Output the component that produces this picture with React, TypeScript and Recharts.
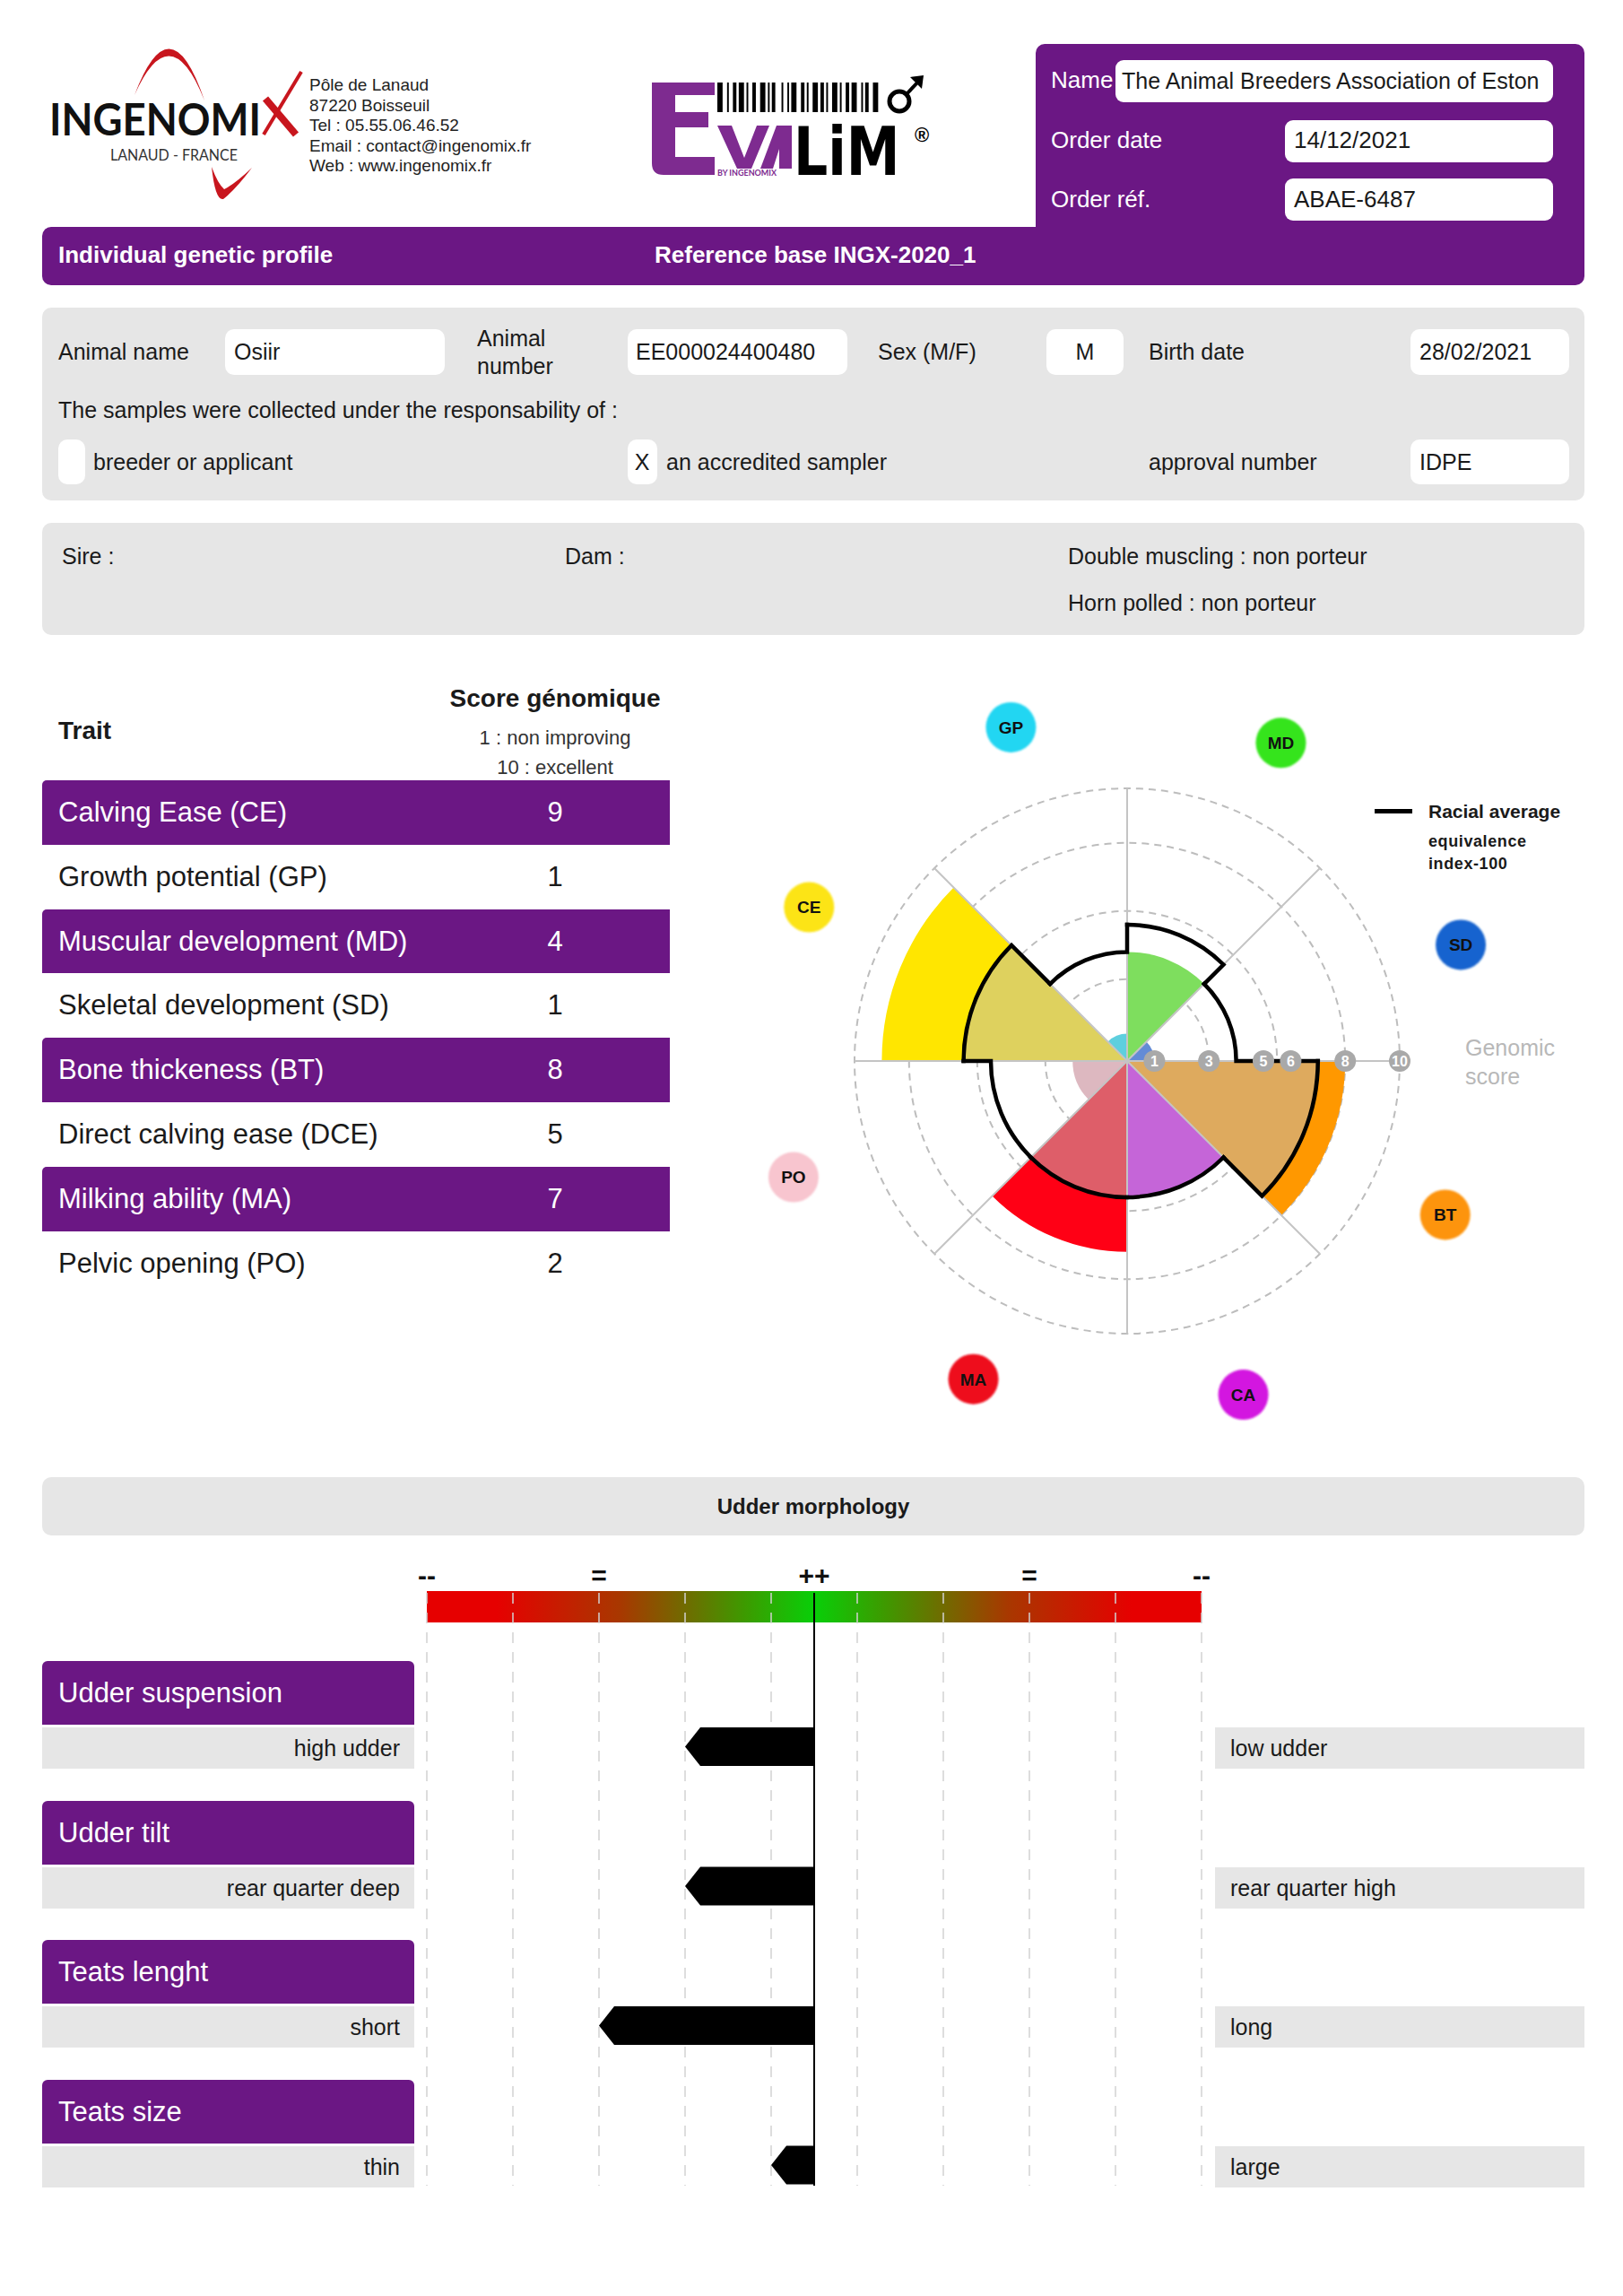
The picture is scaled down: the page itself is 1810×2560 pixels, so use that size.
import React from "react";
import {
  RadialBarChart,
  RadialBar,
  PolarGrid,
  PolarAngleAxis,
  PolarRadiusAxis,
  Cell,
  BarChart,
  Bar,
  XAxis,
  YAxis,
  CartesianGrid,
  ReferenceLine,
} from "recharts";

const FONT = "'Liberation Sans', Arial, sans-serif";
const PURPLE = "#6b1784";
const LIGHT = "#e6e6e6";
const INK = "#1a1a1a";

// trait table
const traitNames = [
  "Calving Ease (CE)",
  "Growth potential (GP)",
  "Muscular development (MD)",
  "Skeletal development (SD)",
  "Bone thickeness (BT)",
  "Direct calving ease (DCE)",
  "Milking ability (MA)",
  "Pelvic opening (PO)",
];
const traitScores = [9, 1, 4, 1, 8, 5, 7, 2];

// rose chart, clockwise from 12 o'clock
const roseCodes = ["MD", "SD", "BT", "CA", "MA", "PO", "CE", "GP"];
const roseScores = [4, 1, 8, 5, 7, 2, 9, 1];
const roseAverage = [5, 4, 7, 5, 5, 5, 6, 4];
const roseColors = ["#40ff00", "#0a5af0", "#ff9800", "#ce0ef4", "#ff0015", "#feb4c4", "#ffe600", "#00e2ff"];
const bubbleColors = ["#35e41c", "#1763cf", "#fd9410", "#d314e0", "#ee0a1e", "#f8c5cf", "#fce412", "#22d6f2"];
const radiusTicks = [1, 3, 5, 6, 8, 10];
const ringValues = [3, 5.5, 8, 10];

// udder morphology
const udderTraits = ["Udder suspension", "Udder tilt", "Teats lenght", "Teats size"];
const udderLow = ["high udder", "rear quarter deep", "short", "thin"];
const udderHigh = ["low udder", "rear quarter high", "long", "large"];
const udderValues = [-1.5, -1.5, -2.5, -0.5];
const scaleTicks = [-4.5, -2.5, 0, 2.5, 4.5];
const scaleLabels = ["--", "=", "++", "=", "--"];
const gridTicks = [-4.5, -3.5, -2.5, -1.5, -0.5, 0.5, 1.5, 2.5, 3.5, 4.5];

const barcode = [3, 2, 1, 2, 2, 1, 3, 1, 1, 2, 2, 2, 3, 1, 1, 1, 2, 3, 1, 2, 1, 1, 3, 2, 2, 1, 1, 2, 3, 1, 2, 1, 1, 2, 3, 1, 1, 2, 2, 1, 3, 2, 1, 1, 2, 2, 3];

const roseData = roseCodes.map((code, i) => {
  const base = Math.min(roseScores[i], roseAverage[i]);
  return { code, inner: base, outer: roseScores[i] - base, avg: roseAverage[i] };
});
const udderData = udderTraits.map((trait, i) => ({ trait, value: udderValues[i] }));

const R = 304;
const SIZE = 900;
const LABEL_R = 394;
const START = 45;
const spokeAngles = roseCodes.map((_, i) => 90 - (i * 360) / roseCodes.length);

const mix = (hex: string, t = 0.5, g = 188) => {
  const n = parseInt(hex.slice(1), 16);
  const f = (c: number) => Math.round(c * (1 - t) + g * t);
  return `rgb(${f((n >> 16) & 255)},${f((n >> 8) & 255)},${f(n & 255)})`;
};

const polar = (cx: number, cy: number, r: number, a: number) => [
  cx + r * Math.cos((-a * Math.PI) / 180),
  cy + r * Math.sin((-a * Math.PI) / 180),
];

const T = ({ x, y, size = 25, bold = false, color = INK, align = "left", children, style }: any) => {
  const tx = align === "center" ? "-50%" : align === "right" ? "-100%" : "0";
  return (
    <div
      style={{
        position: "absolute",
        left: x,
        top: y,
        transform: `translate(${tx}, -50%)`,
        fontSize: size,
        fontWeight: bold ? 700 : 400,
        color,
        whiteSpace: "nowrap",
        lineHeight: 1.2,
        ...style,
      }}
    >
      {children}
    </div>
  );
};

const Rect = ({ x, y, w, h, bg = "#fff", r = 0, style }: any) => (
  <div style={{ position: "absolute", left: x, top: y, width: w, height: h, background: bg, borderRadius: r, ...style }} />
);

const AvgStep = (props: any) => {
  const { cx, cy, outerRadius, startAngle, endAngle, payload } = props;
  const i = roseCodes.indexOf(payload?.code ?? props.code);
  if (i < 0) return null;
  const n = roseAverage.length;
  const lo = Math.min(startAngle, endAngle);
  const hi = Math.max(startAngle, endAngle);
  const nextR = (outerRadius * roseAverage[(i + 1) % n]) / roseAverage[i];
  const [x1, y1] = polar(cx, cy, outerRadius, hi);
  const [x2, y2] = polar(cx, cy, outerRadius, lo);
  const [x3, y3] = polar(cx, cy, nextR, lo);
  return (
    <path
      d={`M${x1},${y1} A${outerRadius},${outerRadius} 0 0 1 ${x2},${y2} L${x3},${y3}`}
      fill="none"
      stroke="#000"
      strokeWidth={4.5}
      strokeLinecap="square"
    />
  );
};

const Bubble = (props: any) => {
  const { payload } = props;
  const i = roseCodes.indexOf(payload.value);
  const step = 360 / roseCodes.length;
  const [x, y] = polar(SIZE / 2, SIZE / 2, LABEL_R, payload.coordinate + step / 2 - 3.3);
  return (
    <g>
      <circle cx={x} cy={y} r={28} fill={bubbleColors[i]} filter="url(#soft)" />
      <text x={x} y={y} dy="0.36em" textAnchor="middle" fontSize={19} fontWeight={700} fontFamily={FONT} fill="#111">
        {payload.value}
      </text>
    </g>
  );
};

const RingTick = (props: any) => {
  const { x, y, payload } = props;
  return (
    <g>
      <circle cx={x} cy={y} r={12} fill="#a9a9a9" />
      <text x={x} y={y} dy="0.36em" textAnchor="middle" fontSize={16} fontWeight={700} fontFamily={FONT} fill="#fff">
        {payload.value}
      </text>
    </g>
  );
};

const ScaleTick = (props: any) => {
  const { x, y, payload } = props;
  return (
    <text x={x} y={y} dy={-1} textAnchor="middle" fontSize={30} fontWeight={700} fontFamily={FONT} fill="#111">
      {scaleLabels[scaleTicks.indexOf(payload.value)]}
    </text>
  );
};

const ArrowBar = (props: any) => {
  const { x, y, width, height, value } = props;
  if (width == null || height == null) return null;
  const left = Math.min(x, x + width);
  const right = Math.max(x, x + width);
  const notch = Math.min(17, right - left);
  const v = Array.isArray(value) ? value[1] : value;
  const pts =
    v < 0
      ? [[right, y], [left + notch, y], [left, y + height / 2], [left + notch, y + height], [right, y + height]]
      : [[left, y], [right - notch, y], [right, y + height / 2], [right - notch, y + height], [left, y + height]];
  return <polygon points={pts.map((p) => p.join(",")).join(" ")} fill="#000" />;
};

const Logos = () => {
  let bx = 0;
  const total = barcode.reduce((s, v) => s + v, 0);
  const k = 180 / total;
  const bars = barcode.map((w, i) => {
    const el = i % 2 === 0 ? <rect key={i} x={800 + bx * k} y={92} width={w * k * 0.9} height={33} fill="#000" /> : null;
    bx += w;
    return el;
  });
  return (
    <svg width={1100} height={240} style={{ position: "absolute", left: 0, top: 0 }}>
      {/* Ingenomix */}
      <path d="M150,106 Q190,0 228,112 Q190,16 150,106 Z" fill="#c8161e" />
      <text x={55} y={151} fontSize={50} fontWeight={700} fontFamily="Lato, sans-serif" textLength={236} lengthAdjust="spacingAndGlyphs" fill="#111">
        INGENOMI
      </text>
      <line x1={296} y1={110} x2={330} y2={150} stroke="#c8161e" strokeWidth={8} />
      <line x1={294} y1={150} x2={336} y2={80} stroke="#c8161e" strokeWidth={4} />
      <text x={123} y={179} fontSize={17} fontFamily="Lato, sans-serif" textLength={142} lengthAdjust="spacingAndGlyphs" fill="#333">
        LANAUD - FRANCE
      </text>
      <path d="M236,186 Q240,224 249,222 Q262,212 281,187 Q262,205 250,211 Q243,205 236,186 Z" fill="#c8161e" />
      {/* Evalim */}
      <path d="M727,92 H797 V106 H753 V125 H790 V142 H753 V175 H797 V195 H740 Q727,195 727,182 Z" fill="#7e2b90" />
      <polygon points="800,140 816,140 830,176 844,140 858,140 838,188 822,188" fill="#7e2b90" />
      <polygon points="848,188 866,140 883,140 883,188 869,188 869,166 862,188" fill="#7e2b90" />
      <text x={800} y={196} fontSize={9} fontWeight={700} fontFamily="Lato, sans-serif" fill="#7e2b90">
        BY INGENOMIX
      </text>
      <g transform="translate(885,195) scale(1,1.25)">
        <text x={0} y={0} fontSize={60} fontWeight={700} fontFamily="'DejaVu Sans', sans-serif" fill="#000">
          LiM
        </text>
      </g>
      {bars}
      <circle cx={1003} cy={113} r={11} fill="none" stroke="#000" strokeWidth={5} />
      <line x1={1011} y1={105} x2={1025} y2={90} stroke="#000" strokeWidth={4} />
      <polygon points="1015,86 1030,84 1028,99" fill="#000" />
      <text x={1020} y={158} fontSize={22} fontWeight={700} fontFamily={FONT} fill="#000">
        ®
      </text>
    </svg>
  );
};

export default function App() {
  const rowH = 71.8;
  const udderStep = 155.5;
  return (
    <div
      style={{
        position: "absolute",
        left: 0,
        top: 0,
        width: 1810,
        height: 2560,
        background: "#fff",
        fontFamily: FONT,
        overflow: "hidden",
        color: INK,
      }}
    >
      <Logos />
      {["Pôle de Lanaud", "87220 Boisseuil", "Tel : 05.55.06.46.52", "Email : contact@ingenomix.fr", "Web : www.ingenomix.fr"].map((s, i) => (
        <T key={s} x={345} y={95 + i * 22.5} size={19} color="#222">
          {s}
        </T>
      ))}

      {/* order header */}
      <Rect x={1155} y={49} w={612} h={220} bg={PURPLE} r="10px 10px 0 0" />
      <Rect x={47} y={253} w={1720} h={65} bg={PURPLE} r="10px 0 10px 10px" />
      <T x={1172} y={90} size={26} color="#fff">Name</T>
      <Rect x={1244} y={67} w={488} h={47} r={9} />
      <T x={1251} y={90} size={25}>The Animal Breeders Association of Eston</T>
      <T x={1172} y={157} size={26} color="#fff">Order date</T>
      <Rect x={1433} y={134} w={299} h={47} r={9} />
      <T x={1443} y={157} size={26}>14/12/2021</T>
      <T x={1172} y={223} size={26} color="#fff">Order réf.</T>
      <Rect x={1433} y={199} w={299} h={47} r={9} />
      <T x={1443} y={223} size={26}>ABAE-6487</T>
      <T x={65} y={285} size={26} bold color="#fff">Individual genetic profile</T>
      <T x={730} y={285} size={26} bold color="#fff">Reference base INGX-2020_1</T>

      {/* animal box */}
      <Rect x={47} y={343} w={1720} h={215} bg={LIGHT} r={10} />
      <T x={65} y={392}>Animal name</T>
      <Rect x={251} y={367} w={245} h={51} r={10} />
      <T x={261} y={392}>Osiir</T>
      <T x={532} y={377}>Animal</T>
      <T x={532} y={408}>number</T>
      <Rect x={700} y={367} w={245} h={51} r={10} />
      <T x={709} y={392}>EE000024400480</T>
      <T x={979} y={392}>Sex (M/F)</T>
      <Rect x={1167} y={367} w={86} h={51} r={10} />
      <T x={1210} y={392} align="center">M</T>
      <T x={1281} y={392}>Birth date</T>
      <Rect x={1573} y={367} w={177} h={51} r={10} />
      <T x={1583} y={392}>28/02/2021</T>
      <T x={65} y={457}>The samples were collected under the responsability of :</T>
      <Rect x={65} y={490} w={30} h={50} r={10} />
      <T x={104} y={515}>breeder or applicant</T>
      <Rect x={700} y={490} w={33} h={50} r={10} />
      <T x={716} y={515} align="center">X</T>
      <T x={743} y={515}>an accredited sampler</T>
      <T x={1281} y={515}>approval number</T>
      <Rect x={1573} y={490} w={177} h={50} r={10} />
      <T x={1583} y={515}>IDPE</T>

      {/* parents box */}
      <Rect x={47} y={583} w={1720} h={125} bg={LIGHT} r={10} />
      <T x={69} y={620}>Sire :</T>
      <T x={630} y={620}>Dam :</T>
      <T x={1191} y={620}>Double muscling : non porteur</T>
      <T x={1191} y={672}>Horn polled : non porteur</T>

      {/* trait table */}
      <T x={65} y={815} size={28} bold>Trait</T>
      <T x={619} y={779} size={28} bold align="center">Score génomique</T>
      <T x={619} y={823} size={22} align="center" color="#333">1 : non improving</T>
      <T x={619} y={856} size={22} align="center" color="#333">10 : excellent</T>
      {traitNames.map((name, i) => {
        const top = 870 + i * rowH;
        const on = i % 2 === 0;
        return (
          <React.Fragment key={name}>
            {on && <Rect x={47} y={top} w={700} h={rowH} bg={PURPLE} r="5px 0 0 0" />}
            <T x={65} y={top + rowH / 2} size={31} color={on ? "#fff" : INK}>{name}</T>
            <T x={619} y={top + rowH / 2} size={31} align="center" color={on ? "#fff" : INK}>{traitScores[i]}</T>
          </React.Fragment>
        );
      })}

      {/* rose chart */}
      <div style={{ position: "absolute", left: 1257 - SIZE / 2, top: 1183 - SIZE / 2, width: SIZE, height: SIZE }}>
        <div style={{ position: "absolute", left: 0, top: 0 }}>
          <RadialBarChart
            width={SIZE}
            height={SIZE}
            data={roseData}
            layout="centric"
            cx="50%"
            cy="50%"
            innerRadius={0}
            outerRadius={R}
            startAngle={START}
            endAngle={START - 360}
            barCategoryGap={0}
            barGap={0}
            margin={{ top: 0, right: 0, bottom: 0, left: 0 }}
          >
            <PolarGrid gridType="circle" radialLines={false} polarRadius={ringValues.map((v) => (v / 10) * R)} stroke="#bdbdbd" strokeDasharray="8 6" strokeWidth={2} />
            <PolarAngleAxis type="category" dataKey="code" tick={false} axisLine={false} tickLine={false} />
            <PolarRadiusAxis type="number" domain={[0, 10]} tick={false} axisLine={false} tickLine={false} />
            <RadialBar dataKey="inner" stackId="v" isAnimationActive={false}>
              {roseData.map((d, i) => (
                <Cell key={d.code} fill={mix(roseColors[i])} />
              ))}
            </RadialBar>
            <RadialBar dataKey="outer" stackId="v" isAnimationActive={false}>
              {roseData.map((d, i) => (
                <Cell key={d.code} fill={roseColors[i]} />
              ))}
            </RadialBar>
          </RadialBarChart>
        </div>
        <div style={{ position: "absolute", left: 0, top: 0 }}>
          <svg width={0} height={0} style={{ position: "absolute" }}>
            <defs>
              <filter id="soft" x="-20%" y="-20%" width="140%" height="140%">
                <feGaussianBlur stdDeviation="1.3" />
              </filter>
            </defs>
          </svg>
          <RadialBarChart
            width={SIZE}
            height={SIZE}
            data={roseData}
            layout="centric"
            cx="50%"
            cy="50%"
            innerRadius={0}
            outerRadius={R}
            startAngle={START}
            endAngle={START - 360}
            barCategoryGap={0}
            barGap={0}
            margin={{ top: 0, right: 0, bottom: 0, left: 0 }}
          >
            <PolarGrid gridType="circle" polarRadius={[0]} polarAngles={spokeAngles} stroke="#c4c4c4" strokeWidth={2} />
            <PolarAngleAxis type="category" dataKey="code" tick={<Bubble />} axisLine={false} tickLine={false} />
            <PolarRadiusAxis type="number" domain={[0, 10]} angle={0} ticks={radiusTicks} tick={<RingTick />} axisLine={false} tickLine={false} />
            <RadialBar dataKey="avg" fill="none" isAnimationActive={false} shape={<AvgStep />} />
          </RadialBarChart>
        </div>
      </div>
      <T x={1634} y={1168} size={25} color="#b8b8b8">Genomic</T>
      <T x={1634} y={1200} size={25} color="#b8b8b8">score</T>
      <Rect x={1533} y={902} w={42} h={5} bg="#000" />
      <T x={1593} y={905} size={21} bold>Racial average</T>
      <T x={1593} y={939} size={18} bold style={{ letterSpacing: 0.6 }}>equivalence</T>
      <T x={1593} y={964} size={18} bold style={{ letterSpacing: 0.6 }}>index-100</T>

      {/* udder morphology */}
      <Rect x={47} y={1647} w={1720} h={65} bg={LIGHT} r={10} />
      <T x={907} y={1680} size={24} bold align="center">Udder morphology</T>
      <div
        style={{
          position: "absolute",
          left: 476,
          top: 1774,
          width: 864,
          height: 35,
          background:
            "linear-gradient(to right, #e60000 0%, #e60000 9%, #a83800 25%, #3d9a00 41%, #08cf08 50%, #3d9a00 59%, #a83800 75%, #e60000 91%, #e60000 100%)",
        }}
      />
      {udderTraits.map((name, i) => {
        const top = 1852 + i * udderStep;
        return (
          <React.Fragment key={name}>
            <Rect x={47} y={top} w={415} h={71} bg={PURPLE} r="6px 6px 0 0" />
            <T x={65} y={top + 36} size={31} color="#fff">{name}</T>
            <Rect x={47} y={top + 74} w={415} h={46} bg={LIGHT} />
            <T x={446} y={top + 97} align="right">{udderLow[i]}</T>
            <Rect x={1355} y={top + 74} w={412} h={46} bg={LIGHT} />
            <T x={1372} y={top + 97}>{udderHigh[i]}</T>
          </React.Fragment>
        );
      })}
      <div style={{ position: "absolute", left: 400, top: 1720 }}>
        <BarChart width={1020} height={717} data={udderData} layout="vertical" margin={{ top: 20, right: 80, bottom: 0, left: 76 }}>
          <CartesianGrid xAxisId="grid" horizontal={false} stroke="#d2d2d2" strokeDasharray="12 10" strokeWidth={1.5} />
          <XAxis xAxisId="grid" type="number" domain={[-4.5, 4.5]} ticks={gridTicks} hide />
          <XAxis
            xAxisId="scale"
            orientation="top"
            type="number"
            domain={[-4.5, 4.5]}
            ticks={scaleTicks}
            interval={0}
            height={36}
            axisLine={false}
            tickLine={false}
            tick={<ScaleTick />}
          />
          <YAxis type="category" dataKey="trait" hide />
          <Bar dataKey="value" xAxisId="grid" fill="transparent" isAnimationActive={false} />
          <Bar dataKey="value" xAxisId="scale" fill="transparent" isAnimationActive={false} />
          <ReferenceLine xAxisId="scale" x={0} stroke="#000" strokeWidth={2} />
        </BarChart>
      </div>
      <div style={{ position: "absolute", left: 400, top: 1870 }}>
        <BarChart width={1020} height={622} data={udderData} layout="vertical" barCategoryGap={0} margin={{ top: 0, right: 80, bottom: 0, left: 76 }}>
          <XAxis type="number" domain={[-4.5, 4.5]} hide />
          <YAxis type="category" dataKey="trait" hide />
          <Bar dataKey="value" barSize={43} fill="#000" shape={<ArrowBar />} isAnimationActive={false} />
        </BarChart>
      </div>
    </div>
  );
}
